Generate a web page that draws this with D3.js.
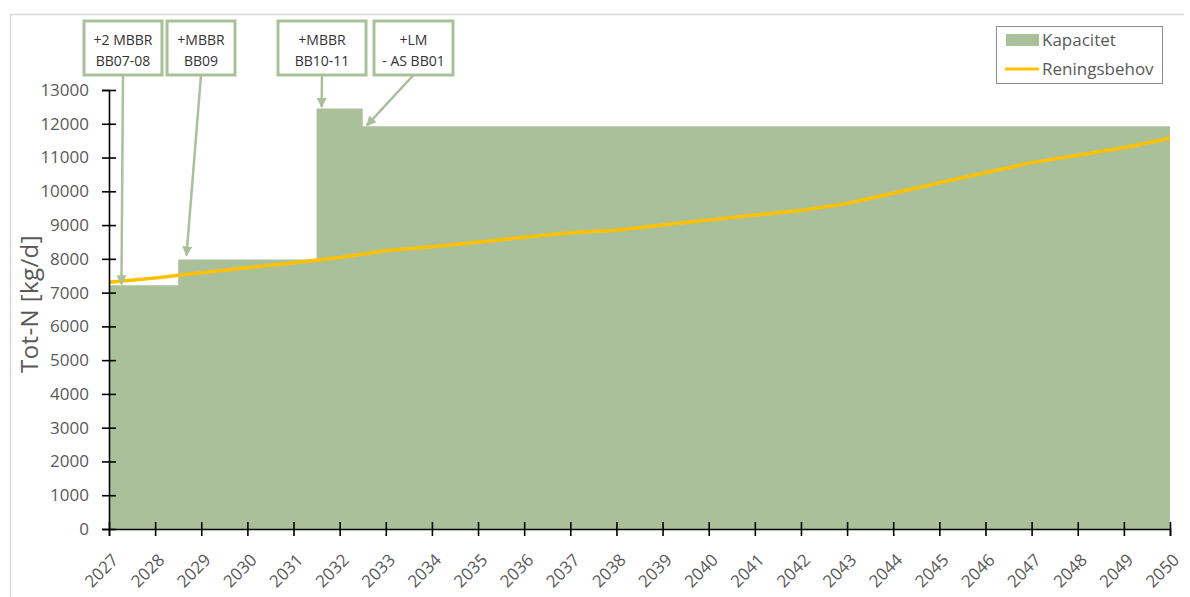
<!DOCTYPE html>
<html>
<head>
<meta charset="utf-8">
<script src="https://cdn.jsdelivr.net/npm/d3@7"></script>
<style>
  body { margin: 0; background: #fff; }
  text { font-family: "Open Sans", sans-serif; }
</style>
</head>
<body>
<script>
//Years on the x axis
var years = [2027, 2028, 2029, 2030, 2031, 2032, 2033, 2034, 2035, 2036, 2037, 2038,
             2039, 2040, 2041, 2042, 2043, 2044, 2045, 2046, 2047, 2048, 2049, 2050];

//Reningsbehov, one value per year
var behov = [7310, 7430, 7590, 7735, 7885, 8040, 8240, 8360, 8490, 8640, 8770, 8850,
             9000, 9150, 9295, 9435, 9640, 9940, 10255, 10550, 10850, 11065, 11290, 11570];

//Kapacitet changes in steps (half years)
var capYears = [2027, 2028.5, 2031.5, 2032.5, 2050];
var capValues = [7220, 7980, 12450, 11930, 11930];

//Y axis ticks
var yTicks = [0, 1000, 2000, 3000, 4000, 5000, 6000, 7000, 8000, 9000, 10000, 11000, 12000, 13000];

//Annotations: text lines and where the arrow points (in data units)
var noteLines = [["+2 MBBR", "BB07-08"], ["+MBBR", "BB09"], ["+MBBR", "BB10-11"], ["+LM", "- AS BB01"]];
var noteYears = [2027.27, 2028.68, 2031.61, 2032.59];
var noteValues = [7250, 8100, 12500, 11950];

var seriesNames = ["Kapacitet", "Reningsbehov"];

var green = "#a9c09a";
var gold = "#ffc000";
var grey = "#595959";

var W = 1190, H = 597;
var margin = { top: 90, right: 18, bottom: 68, left: 109 };

var svg = d3.select("body").append("svg")
    .attr("width", W)
    .attr("height", H);

//Outer chart border (only top and left are visible)
svg.append("path")
    .attr("d", "M10.5," + H + "V14.5H" + (W - 6))
    .attr("fill", "none")
    .attr("stroke", "#d9d9d9")
    .attr("stroke-width", 1.5);

var x = d3.scaleLinear()
    .domain([years[0], years[years.length - 1]])
    .range([margin.left, 1170]);

var y = d3.scaleLinear()
    .domain([0, 13000])
    .range([529, margin.top]);

var capData = capYears.map(function(d, i) { return { year: d, value: capValues[i] }; });
var behovData = years.map(function(d, i) { return { year: d, value: behov[i] }; });

//Kapacitet as a stepped area
var area = d3.area()
    .curve(d3.curveStepAfter)
    .x(function(d) { return x(d.year); })
    .y0(y(0))
    .y1(function(d) { return y(d.value); });

svg.append("path")
    .datum(capData)
    .attr("d", area)
    .attr("fill", green);

//Reningsbehov line
var line = d3.line()
    .x(function(d) { return x(d.year); })
    .y(function(d) { return y(d.value); });

svg.append("path")
    .datum(behovData)
    .attr("d", line)
    .attr("fill", "none")
    .attr("stroke", gold)
    .attr("stroke-width", 3.5)
    .attr("stroke-linejoin", "round");

//Y axis
var yAxis = svg.append("g")
    .attr("transform", "translate(" + margin.left + ",0)")
    .call(d3.axisLeft(y).tickValues(yTicks).tickSize(7).tickPadding(13).tickFormat(d3.format("d")));

yAxis.select(".domain").attr("stroke", "#000").attr("stroke-width", 1.6);
yAxis.selectAll(".tick line").attr("x2", 7).attr("x1", -7).attr("stroke-width", 1.6);
yAxis.selectAll(".tick text")
    .attr("fill", grey)
    .style("font-size", "17px");

//X axis
var xAxis = svg.append("g")
    .attr("transform", "translate(0," + y(0) + ")")
    .call(d3.axisBottom(x).tickValues(years).tickSize(7).tickFormat(d3.format("d")));

xAxis.select(".domain").attr("stroke", "#000").attr("stroke-width", 1.6);
xAxis.selectAll(".tick line").attr("y1", -7).attr("y2", 7).attr("stroke-width", 1.6);
xAxis.selectAll(".tick text")
    .attr("fill", grey)
    .style("font-size", "17px")
    .attr("text-anchor", "end")
    .attr("y", 0)
    .attr("dy", 0)
    .attr("transform", "translate(10,32) rotate(-45)");

//Y axis label
svg.append("text")
    .attr("transform", "translate(38,304) rotate(-90)")
    .attr("text-anchor", "middle")
    .attr("fill", grey)
    .style("font-size", "24px")
    .style("letter-spacing", "0.4px")
    .text("Tot-N [kg/d]");

//Annotation boxes with arrows
var boxes = [
  { x: 84, w: 78 }, { x: 167, w: 68 }, { x: 278, w: 88 }, { x: 374, w: 79 }
];
var boxTop = 21, boxH = 54;

svg.append("defs").append("marker")
    .attr("id", "head")
    .attr("viewBox", "0 0 10 10")
    .attr("refX", 9)
    .attr("refY", 5)
    .attr("markerWidth", 4)
    .attr("markerHeight", 4)
    .attr("orient", "auto")
    .append("path")
    .attr("d", "M0,0L10,5L0,10Z")
    .attr("fill", green);

var note = svg.selectAll(".note")
    .data(noteLines)
    .enter().append("g")
    .attr("class", "note");

note.append("line")
    .attr("x1", function(d, i) { return boxes[i].x + boxes[i].w / 2; })
    .attr("y1", boxTop + boxH)
    .attr("x2", function(d, i) { return x(noteYears[i]); })
    .attr("y2", function(d, i) { return y(noteValues[i]); })
    .attr("stroke", green)
    .attr("stroke-width", 2.5)
    .attr("marker-end", "url(#head)");

note.append("rect")
    .attr("x", function(d, i) { return boxes[i].x; })
    .attr("y", boxTop)
    .attr("width", function(d, i) { return boxes[i].w; })
    .attr("height", boxH)
    .attr("fill", "#fff")
    .attr("stroke", green)
    .attr("stroke-width", 3);

note.each(function(d, i) {
  var g = d3.select(this);
  d.forEach(function(txt, j) {
    g.append("text")
      .attr("x", boxes[i].x + boxes[i].w / 2)
      .attr("y", 45 + j * 21)
      .attr("text-anchor", "middle")
      .attr("fill", "#333")
      .style("font-size", "14px")
      .text(txt);
  });
});

//Legend
var legend = svg.append("g").attr("transform", "translate(996,26)");

legend.append("rect")
    .attr("x", 0.5).attr("y", 0.5)
    .attr("width", 166).attr("height", 57)
    .attr("fill", "#fff")
    .attr("stroke", "#8c8c8c")
    .attr("stroke-width", 1);

legend.append("rect")
    .attr("x", 10).attr("y", 8)
    .attr("width", 33).attr("height", 12)
    .attr("fill", green);

legend.append("line")
    .attr("x1", 9).attr("x2", 43)
    .attr("y1", 43).attr("y2", 43)
    .attr("stroke", gold)
    .attr("stroke-width", 3);

legend.selectAll(".ltext")
    .data(seriesNames)
    .enter().append("text")
    .attr("class", "ltext")
    .attr("x", 46)
    .attr("y", function(d, i) { return 20 + i * 29; })
    .attr("fill", grey)
    .style("font-size", "17px")
    .text(function(d) { return d; });
</script>
</body>
</html>
